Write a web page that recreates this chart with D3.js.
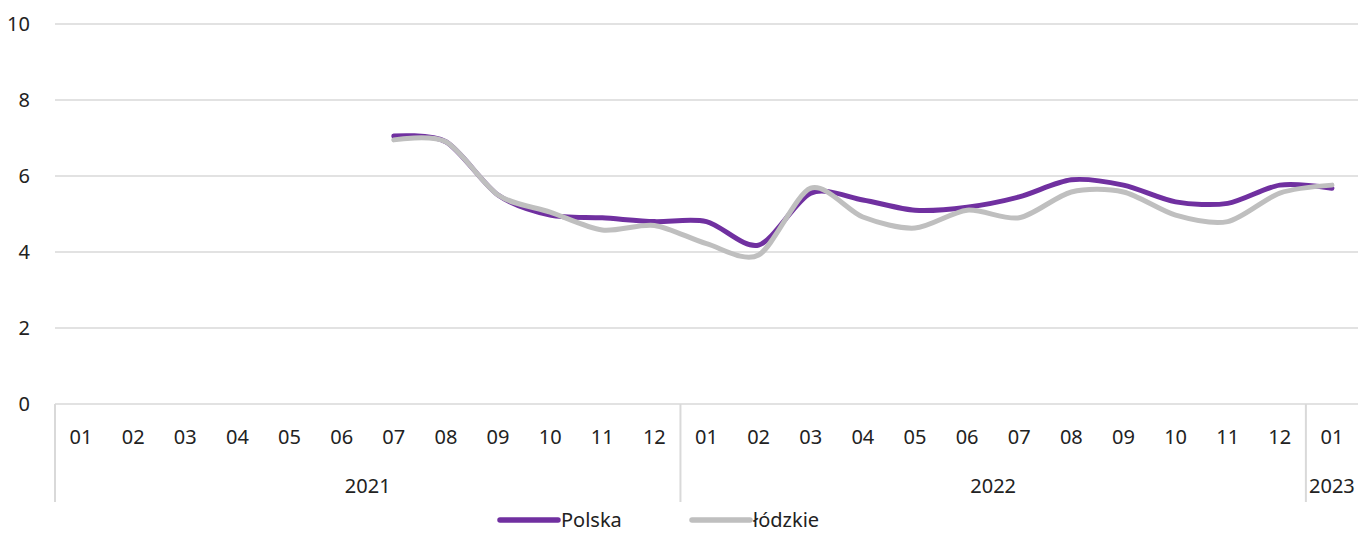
<html>
<head>
<meta charset="utf-8">
<title>Polska / łódzkie</title>
<script src="https://d3js.org/d3.v7.min.js"></script>
<style>
  body { margin: 0; background: #fff; }
  text { font-family: "Noto Sans", "Open Sans", sans-serif; fill: #222; }
</style>
</head>
<body>
<div id="chart"></div>
<script type="text/javascript">
// data
var months = ["01","02","03","04","05","06","07","08","09","10","11","12",
              "01","02","03","04","05","06","07","08","09","10","11","12",
              "01"];
var years = ["2021","2022","2023"];
var yearCounts = [12, 12, 1];
var polska = [null,null,null,null,null,null,7.05,6.9,5.5,4.97,4.9,4.8,
              4.8,4.18,5.55,5.37,5.1,5.18,5.45,5.9,5.76,5.32,5.28,5.76,
              5.68];
var lodzkie = [null,null,null,null,null,null,6.95,6.9,5.5,5.05,4.58,4.7,
               4.22,3.92,5.68,4.92,4.63,5.1,4.9,5.58,5.58,4.97,4.8,5.55,
               5.76];
var yTicks = [0, 2, 4, 6, 8, 10];
var seriesNames = ["Polska", "łódzkie"];
var seriesColors = ["#7030a0", "#bfbfbf"];

var W = 1358, H = 533;
var plot = {left: 55, right: 1358, top: 24, bottom: 404};

var svg = d3.select("#chart").append("svg")
    .attr("width", W)
    .attr("height", H);

var idx = d3.range(months.length);
var x = d3.scaleBand().domain(idx).range([plot.left, plot.right]).padding(0);
var y = d3.scaleLinear().domain([0, 10]).range([plot.bottom, plot.top]);

// gridlines
svg.append("g").selectAll("line")
    .data(yTicks)
    .enter().append("line")
    .attr("x1", plot.left).attr("x2", plot.right)
    .attr("y1", function(d){ return y(d); })
    .attr("y2", function(d){ return y(d); })
    .attr("stroke", "#d9d9d9")
    .attr("stroke-width", 1.5);

// y labels
svg.append("g").selectAll("text")
    .data(yTicks)
    .enter().append("text")
    .attr("x", 30)
    .attr("y", function(d){ return y(d); })
    .attr("dy", "0.35em")
    .attr("text-anchor", "end")
    .style("font-size", "20px")
    .text(function(d){ return d; });

// month labels
svg.append("g").selectAll("text")
    .data(idx)
    .enter().append("text")
    .attr("x", function(i){ return x(i) + x.bandwidth() / 2; })
    .attr("y", 437)
    .attr("dy", "0.35em")
    .attr("text-anchor", "middle")
    .style("font-size", "20px")
    .text(function(i){ return months[i]; });

// year groups
var start = 0;
var yearData = years.map(function(yr, k) {
    var o = {name: yr, from: start, to: start + yearCounts[k] - 1};
    start += yearCounts[k];
    return o;
});
svg.append("g").selectAll("line")
    .data(yearData)
    .enter().append("line")
    .attr("x1", function(d){ return x(d.from); })
    .attr("x2", function(d){ return x(d.from); })
    .attr("y1", plot.bottom).attr("y2", 502)
    .attr("stroke", "#d9d9d9")
    .attr("stroke-width", 2);
svg.append("g").selectAll("text")
    .data(yearData)
    .enter().append("text")
    .attr("x", function(d){ return (x(d.from) + x(d.to) + x.bandwidth()) / 2; })
    .attr("y", 486)
    .attr("dy", "0.35em")
    .attr("text-anchor", "middle")
    .style("font-size", "20px")
    .text(function(d){ return d.name; });

// lines
var line = d3.line()
    .defined(function(d){ return d[1] != null; })
    .x(function(d){ return x(d[0]) + x.bandwidth() / 2; })
    .y(function(d){ return y(d[1]); })
    .curve(d3.curveCardinal.tension(0.15));

[polska, lodzkie].forEach(function(vals, k) {
    var pts = vals.map(function(v, i){ return [i, v]; }).filter(function(d){ return d[1] != null; });
    svg.append("path")
        .attr("d", line(pts))
        .attr("fill", "none")
        .attr("stroke", seriesColors[k])
        .attr("stroke-width", 5)
        .attr("stroke-linecap", "round")
        .attr("stroke-linejoin", "round");
});

// legend
var legendX = [500, 692];
seriesNames.forEach(function(name, k) {
    var g = svg.append("g").attr("transform", "translate(" + legendX[k] + ",520)");
    g.append("line")
        .attr("x1", 0).attr("x2", 58)
        .attr("stroke", seriesColors[k])
        .attr("stroke-width", 5.5)
        .attr("stroke-linecap", "round");
    g.append("text")
        .attr("x", 61)
        .attr("dy", "0.35em")
        .style("font-size", "20px")
        .text(name);
});
</script>
</body>
</html>
